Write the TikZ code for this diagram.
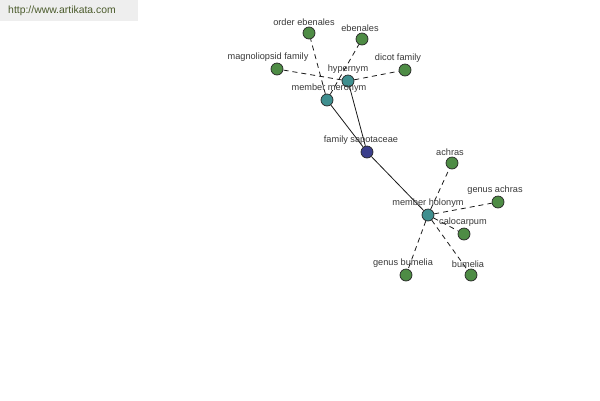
\documentclass[tikz,border=0pt]{standalone}
\usepackage{fontspec}
\setmainfont{Liberation Sans}
\usepackage{tikz}
\usetikzlibrary{backgrounds}
\definecolor{leafgreen}{HTML}{4E8C45}
\definecolor{relteal}{HTML}{3F8F8F}
\definecolor{rootblue}{HTML}{3B3F8C}
\definecolor{urlgray}{HTML}{EEEEEE}
\definecolor{urltext}{HTML}{4A5A2A}
\tikzstyle{word} = [circle, draw=black!85, fill=leafgreen, minimum size=12pt, inner sep=0pt,
    line width=0.7pt, label distance=-2.5pt]
\tikzstyle{rel} = [word, fill=relteal]
\tikzstyle{root} = [word, fill=rootblue]
\tikzstyle{solidlink} = [black!90, line width=0.8pt]
\tikzstyle{dashlink} = [black!90, line width=0.8pt, dash pattern=on 5pt off 4pt]
\tikzset{every label/.style={font=\fontsize{9.2}{11}\selectfont, text=black!78, inner sep=1pt}}

\begin{document}
\begin{tikzpicture}[x=1pt, y=-1pt]
        \useasboundingbox (0,0) rectangle (600,400);
        \fill [urlgray] (0,0) rectangle (138,21);
        \node (url) at (62,11) [font=\fontsize{10.4}{12}\selectfont, text=urltext] {http://www.artikata.com};
        \node (sapo) at (367,152) [root, label={[xshift=-6pt]above:family sapotaceae}] {};
        \node (hyper) at (348,81) [rel, label={above:hypernym}] {};
        \node (mero) at (327,100) [rel, label={[xshift=2pt]above:member meronym}] {};
        \node (holo) at (428,215) [rel, label={above:member holonym}] {};
        \node (ordeb) at (309,33) [word, label={[xshift=-5pt]above:order ebenales}] {};
        \node (ebenales) at (362,39) [word, label={[xshift=-2pt]above:ebenales}] {};
        \node (magno) at (277,69) [word, label={[xshift=-9pt]above:magnoliopsid family}] {};
        \node (dicot) at (405,70) [word, label={[xshift=-7pt]above:dicot family}] {};
        \node (achras) at (452,163) [word, label={[xshift=-2pt]above:achras}] {};
        \node (gachras) at (498,202) [word, label={[xshift=-3pt]above:genus achras}] {};
        \node (calo) at (464,234) [word, label={[xshift=-1pt]above:calocarpum}] {};
        \node (gbum) at (406,275) [word, label={[xshift=-3pt]above:genus bumelia}] {};
        \node (bumelia) at (471,275) [word, label={[xshift=-3pt]above:bumelia}] {};
        \begin{pgfonlayer}{background}
        \draw [solidlink] (sapo) -- (hyper);
        \draw [solidlink] (sapo) -- (mero);
        \draw [solidlink] (sapo) -- (holo);
        \draw [dashlink] (hyper) -- (magno);
        \draw [dashlink] (hyper) -- (dicot);
        \draw [dashlink] (mero) -- (ordeb);
        \draw [dashlink] (mero) -- (ebenales);
        \draw [dashlink] (holo) -- (achras);
        \draw [dashlink] (holo) -- (gachras);
        \draw [dashlink] (holo) -- (calo);
        \draw [dashlink] (holo) -- (gbum);
        \draw [dashlink] (holo) -- (bumelia);
        \end{pgfonlayer}
    \end{tikzpicture}
\end{document}
